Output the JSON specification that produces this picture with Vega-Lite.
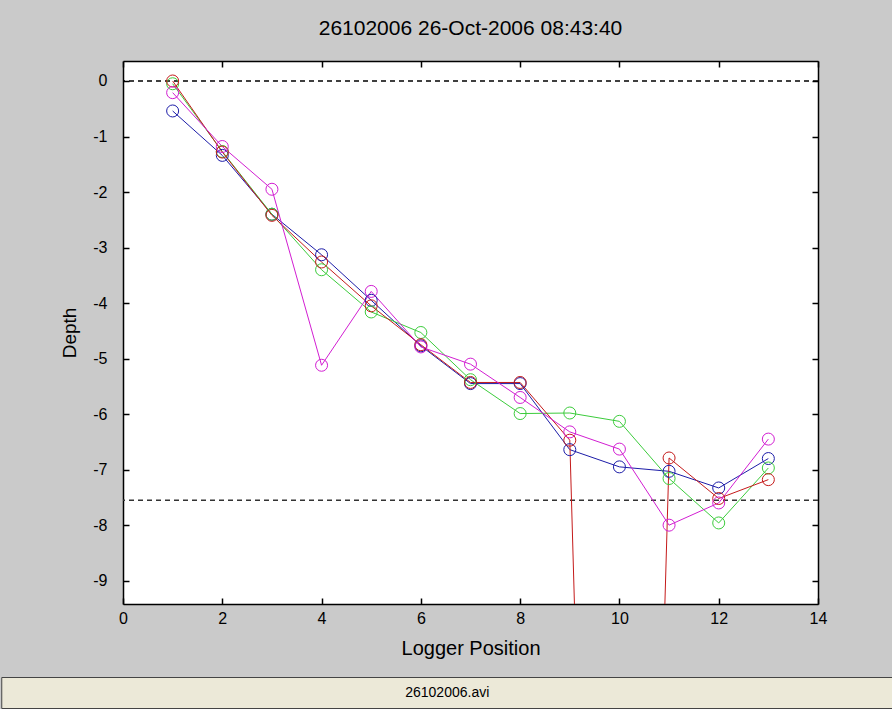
{
  "$schema": "https://vega.github.io/schema/vega-lite/v6.json",
  "background": "#cacaca",
  "padding": {"top": 18, "left": 0, "right": 0, "bottom": 0},
  "spacing": 18,
  "bounds": "full",
  "center": true,
  "columns": 1,
  "config": {
    "font": "Liberation Sans",
    "axis": {
      "domainColor": "#000000",
      "domainWidth": 1.5,
      "tickColor": "#000000",
      "tickWidth": 1.5,
      "tickSize": -6,
      "grid": false,
      "labelColor": "#000000",
      "labelFont": "Liberation Sans",
      "labelFontSize": 16,
      "labelFlush": false,
      "labelOverlap": false,
      "labelExpr": "replace(datum.label, '−', '-')",
      "titleColor": "#000000",
      "titleFont": "Liberation Sans",
      "titleFontSize": 19,
      "titleFontWeight": "normal"
    }
  },
  "datasets": {
    "depths": [
      {"pos": 1, "depth": -0.54, "trace": "T1"},
      {"pos": 2, "depth": -1.34, "trace": "T1"},
      {"pos": 3, "depth": -2.4, "trace": "T1"},
      {"pos": 4, "depth": -3.13, "trace": "T1"},
      {"pos": 5, "depth": -3.95, "trace": "T1"},
      {"pos": 6, "depth": -4.77, "trace": "T1"},
      {"pos": 7, "depth": -5.45, "trace": "T1"},
      {"pos": 8, "depth": -5.45, "trace": "T1"},
      {"pos": 9, "depth": -6.64, "trace": "T1"},
      {"pos": 10, "depth": -6.95, "trace": "T1"},
      {"pos": 11, "depth": -7.03, "trace": "T1"},
      {"pos": 12, "depth": -7.33, "trace": "T1"},
      {"pos": 13, "depth": -6.8, "trace": "T1"},
      {"pos": 1, "depth": -0.05, "trace": "T2"},
      {"pos": 2, "depth": -1.27, "trace": "T2"},
      {"pos": 3, "depth": -2.4, "trace": "T2"},
      {"pos": 4, "depth": -3.4, "trace": "T2"},
      {"pos": 5, "depth": -4.16, "trace": "T2"},
      {"pos": 6, "depth": -4.53, "trace": "T2"},
      {"pos": 7, "depth": -5.38, "trace": "T2"},
      {"pos": 8, "depth": -5.99, "trace": "T2"},
      {"pos": 9, "depth": -5.98, "trace": "T2"},
      {"pos": 10, "depth": -6.13, "trace": "T2"},
      {"pos": 11, "depth": -7.16, "trace": "T2"},
      {"pos": 12, "depth": -7.96, "trace": "T2"},
      {"pos": 13, "depth": -6.97, "trace": "T2"},
      {"pos": 1, "depth": 0, "trace": "T3"},
      {"pos": 2, "depth": -1.28, "trace": "T3"},
      {"pos": 3, "depth": -2.42, "trace": "T3"},
      {"pos": 4, "depth": -3.26, "trace": "T3"},
      {"pos": 5, "depth": -4.05, "trace": "T3"},
      {"pos": 6, "depth": -4.75, "trace": "T3"},
      {"pos": 7, "depth": -5.43, "trace": "T3"},
      {"pos": 8, "depth": -5.43, "trace": "T3"},
      {"pos": 9, "depth": -6.47, "trace": "T3"},
      {"pos": 10, "depth": -38, "trace": "T3"},
      {"pos": 11, "depth": -6.79, "trace": "T3"},
      {"pos": 12, "depth": -7.52, "trace": "T3"},
      {"pos": 13, "depth": -7.18, "trace": "T3"},
      {"pos": 1, "depth": -0.21, "trace": "T4"},
      {"pos": 2, "depth": -1.18, "trace": "T4"},
      {"pos": 3, "depth": -1.95, "trace": "T4"},
      {"pos": 4, "depth": -5.12, "trace": "T4"},
      {"pos": 5, "depth": -3.79, "trace": "T4"},
      {"pos": 6, "depth": -4.79, "trace": "T4"},
      {"pos": 7, "depth": -5.1, "trace": "T4"},
      {"pos": 8, "depth": -5.7, "trace": "T4"},
      {"pos": 9, "depth": -6.32, "trace": "T4"},
      {"pos": 10, "depth": -6.63, "trace": "T4"},
      {"pos": 11, "depth": -8.0, "trace": "T4"},
      {"pos": 12, "depth": -7.6, "trace": "T4"},
      {"pos": 13, "depth": -6.45, "trace": "T4"}
    ],
    "levels": [
      {"depth": 0, "trace": "surface"},
      {"depth": -7.55, "trace": "threshold"}
    ],
    "file": [
      {"label": "26102006.avi"}
    ]
  },
  "concat": [
    {
      "width": 695,
      "height": 543,
      "view": {"fill": "#ffffff", "stroke": null},
      "title": {
        "text": "26102006 26-Oct-2006 08:43:40",
        "fontSize": 21,
        "fontWeight": "normal",
        "font": "Liberation Sans",
        "color": "#000000",
        "anchor": "middle",
        "baseline": "alphabetic",
        "offset": 4
      },
      "layer": [
        {
          "data": {"name": "levels"},
          "mark": {"type": "rule", "strokeDash": [5, 4], "strokeWidth": 1.5},
          "encoding": {
            "y": {"field": "depth", "type": "quantitative", "scale": {"domain": [-9.42, 0.36], "nice": false, "zero": false},
              "axis": {"orient": "right", "offset": 20, "domain": true, "domainOpacity": 0, "ticks": false, "labels": false, "title": null}},
            "color": {"field": "trace", "type": "nominal", "legend": null,
              "scale": {"domain": ["T1", "T2", "T3", "T4", "surface", "threshold"], "range": ["#1c1ca8", "#3ccc3c", "#c41a1a", "#d21ed2", "#000000", "#333333"]}}
          }
        },
        {
          "data": {"name": "depths"},
          "mark": {"type": "line", "strokeWidth": 1, "clip": true},
          "encoding": {
            "x": {"field": "pos", "type": "quantitative", "scale": {"domain": [0, 14], "nice": false},
              "axis": {"orient": "bottom", "values": [0, 2, 4, 6, 8, 10, 12, 14], "title": "Logger Position", "titleFontSize": 20, "labelPadding": 12, "titlePadding": 12}},
            "y": {"field": "depth", "type": "quantitative", "scale": {"domain": [-9.42, 0.36], "nice": false, "zero": false},
              "axis": {"orient": "left", "values": [-9, -8, -7, -6, -5, -4, -3, -2, -1, 0], "title": "Depth", "labelPadding": 22, "titlePadding": 13}},
            "color": {"field": "trace", "type": "nominal", "legend": null},
            "order": {"field": "pos"}
          }
        },
        {
          "data": {"name": "depths"},
          "mark": {"type": "point", "shape": "circle", "filled": false, "size": 144, "strokeWidth": 1, "opacity": 1, "clip": true},
          "encoding": {
            "x": {"field": "pos", "type": "quantitative",
              "axis": {"orient": "top", "values": [0, 2, 4, 6, 8, 10, 12, 14], "labels": false, "title": null}},
            "y": {"field": "depth", "type": "quantitative",
              "axis": {"orient": "right", "values": [-9, -8, -7, -6, -5, -4, -3, -2, -1, 0], "labels": false, "title": null}},
            "color": {"field": "trace", "type": "nominal", "legend": null}
          }
        }
      ],
      "resolve": {"axis": {"x": "independent", "y": "independent"}}
    },
    {
      "width": 892,
      "height": 31,
      "view": {"fill": "#ece9d8", "stroke": "#444444"},
      "data": {"name": "file"},
      "mark": {"type": "text", "fontSize": 14, "font": "Liberation Sans", "color": "#000000"},
      "encoding": {
        "text": {"field": "label", "type": "nominal"},
        "y": {"field": "label", "type": "nominal",
          "axis": {"orient": "right", "offset": 66, "domain": true, "domainOpacity": 0, "ticks": false, "labels": false, "title": null}}
      }
    }
  ]
}
